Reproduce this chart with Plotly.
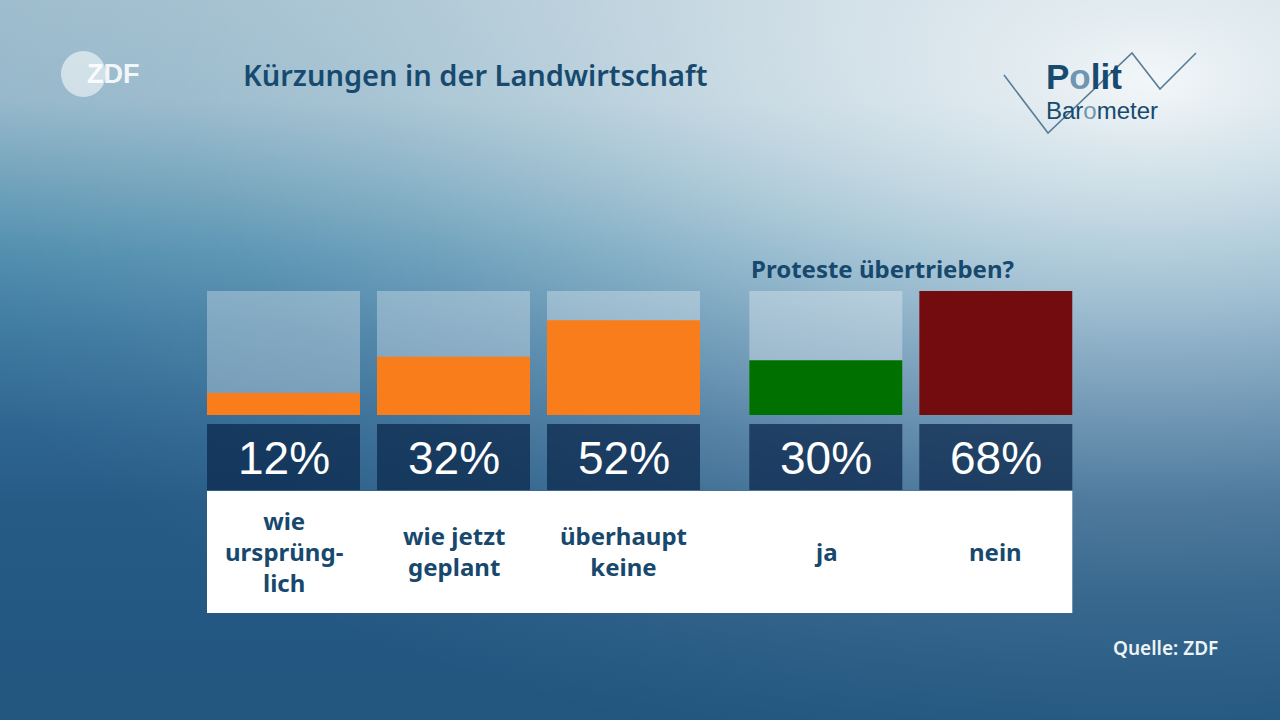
import base64
import plotly.graph_objects as go

# ---------------- data ----------------
categories = ["wie<br>ursprüng-<br>lich", "wie jetzt<br>geplant", "überhaupt<br>keine", "ja", "nein"]
values = [12, 32, 52, 30, 68]
value_labels = ["12%", "32%", "52%", "30%", "68%"]
bar_colors = ["#fa7d1b", "#fa7d1b", "#fa7d1b", "#007000", "#720c0e"]
positions = [0, 1, 2, 3.19, 4.19]
title_text = "Kürzungen in der Landwirtschaft"
subtitle_text = "Proteste übertrieben?"
source_text = "Quelle: ZDF"

W, H = 1280, 720
BAR_W = 0.9
DARK = "#17486d"


def py(y):
    return 1 - y / H


def px(x):
    return x / W


# ---------------- background (svg gradient) ----------------
svg = f"""<svg xmlns='http://www.w3.org/2000/svg' width='{W}' height='{H}'>
<defs>
<linearGradient id='v' x1='0' y1='0' x2='0' y2='1'>
<stop offset='0' stop-color='#9cbbcc'/>
<stop offset='0.14' stop-color='#93b6c9'/>
<stop offset='0.28' stop-color='#659bb6'/>
<stop offset='0.35' stop-color='#4f8dae'/>
<stop offset='0.46' stop-color='#3d79a0'/>
<stop offset='0.6' stop-color='#2e6590'/>
<stop offset='0.7' stop-color='#265b86'/>
<stop offset='1' stop-color='#22567f'/>
</linearGradient>
<radialGradient id='g' cx='1150' cy='80' r='1300' gradientUnits='userSpaceOnUse' gradientTransform='translate(1150 80) scale(1 0.54) translate(-1150 -80)'>
<stop offset='0' stop-color='#ffffff' stop-opacity='0.88'/>
<stop offset='0.1' stop-color='#ffffff' stop-opacity='0.72'/>
<stop offset='0.31' stop-color='#ffffff' stop-opacity='0.5'/>
<stop offset='0.46' stop-color='#ffffff' stop-opacity='0.33'/>
<stop offset='0.6' stop-color='#ffffff' stop-opacity='0.19'/>
<stop offset='0.74' stop-color='#ffffff' stop-opacity='0.09'/>
<stop offset='0.89' stop-color='#ffffff' stop-opacity='0.03'/>
<stop offset='1' stop-color='#ffffff' stop-opacity='0'/>
</radialGradient>
</defs>
<rect width='{W}' height='{H}' fill='url(#v)'/>
<rect width='{W}' height='{H}' fill='url(#g)'/>
</svg>"""
bg_uri = "data:image/svg+xml;base64," + base64.b64encode(svg.encode()).decode()

ymax = max(values)

fig = go.Figure()
# light background boxes (full scale)
fig.add_trace(go.Bar(
    x=positions, y=[ymax] * len(values), width=BAR_W,
    marker=dict(color="rgba(255,255,255,0.3)", line=dict(width=0)),
    hoverinfo="skip",
))
# value bars
fig.add_trace(go.Bar(
    x=positions, y=values, width=BAR_W,
    marker=dict(color=bar_colors, line=dict(width=0)),
))

shapes = []
annotations = []

# dark value boxes and labels
for p, lab in zip(positions, value_labels):
    shapes.append(dict(type="rect", xref="x", yref="paper",
                       x0=p - BAR_W / 2, x1=p + BAR_W / 2, y0=py(490), y1=py(424),
                       fillcolor="rgba(12,42,78,0.75)", line=dict(width=0), layer="above"))
    annotations.append(dict(x=p, xref="x", y=py(458), yref="paper", text=lab,
                            showarrow=False, xanchor="center", yanchor="middle",
                            font=dict(family="Liberation Sans", size=46, color="white")))

# white category area
shapes.append(dict(type="rect", xref="x", yref="paper",
                   x0=positions[0] - BAR_W / 2, x1=positions[-1] + BAR_W / 2,
                   y0=py(613), y1=py(491), fillcolor="white", line=dict(width=0), layer="above"))
for p, cat in zip(positions, categories):
    annotations.append(dict(x=p, xref="x", y=py(551), yref="paper", text=cat,
                            showarrow=False, xanchor="center", yanchor="middle",
                            font=dict(family="Noto Sans", size=24, color=DARK, weight="bold")))

# subtitle above the second group
annotations.append(dict(x=positions[3] - BAR_W / 2, xref="x", y=py(268), yref="paper",
                        text=subtitle_text, showarrow=False, xanchor="left", yanchor="middle",
                        font=dict(family="Noto Sans", size=24, color=DARK, weight="bold")))

# title
annotations.append(dict(x=px(241), xref="paper", y=py(75), yref="paper", text=title_text,
                        showarrow=False, xanchor="left", yanchor="middle",
                        font=dict(family="Noto Sans", size=29, color="#174a6e", weight=600)))

# ZDF logo
shapes.append(dict(type="circle", xref="paper", yref="paper",
                   x0=px(61), x1=px(106), y0=py(97), y1=py(51),
                   fillcolor="rgba(255,255,255,0.55)", line=dict(width=0)))
annotations.append(dict(x=px(85), xref="paper", y=py(74), yref="paper", text="ZDF",
                        showarrow=False, xanchor="left", yanchor="middle",
                        font=dict(family="Liberation Sans", size=27, color="rgba(255,255,255,0.9)",
                                  weight="bold")))

# Politbarometer logo
zig = [(1004, 75), (1048, 133), (1132, 53), (1160, 89), (1196, 53)]
path = "M " + " L ".join(f"{px(x):.5f},{py(y):.5f}" for x, y in zig)
shapes.append(dict(type="path", xref="paper", yref="paper", path=path,
                   line=dict(color="#5a7d96", width=1.6)))
annotations.append(dict(x=px(1045), xref="paper", y=py(97), yref="paper",
                        text="P<span style='color:#6f95b0'>o</span>lit",
                        showarrow=False, xanchor="left", yanchor="bottom", borderpad=0,
                        font=dict(family="Liberation Sans", size=35, color="#174a6e", weight="bold")))
annotations.append(dict(x=px(1045), xref="paper", y=py(96), yref="paper",
                        text="Bar<span style='color:#6f95b0'>o</span>meter",
                        showarrow=False, xanchor="left", yanchor="top", borderpad=0,
                        font=dict(family="Liberation Sans", size=24, color="#174a6e")))

# source
annotations.append(dict(x=px(1220), xref="paper", y=py(648), yref="paper", text=source_text,
                        showarrow=False, xanchor="right", yanchor="middle",
                        font=dict(family="Noto Sans", size=19, color="#eef3f6", weight=600)))

fig.update_layout(
    width=W, height=H,
    margin=dict(l=0, r=0, t=0, b=0),
    paper_bgcolor="#3f759b",
    plot_bgcolor="rgba(0,0,0,0)",
    barmode="overlay",
    showlegend=False,
    xaxis=dict(range=[-283.5 / 170, (W - 283.5) / 170], domain=[0, 1], visible=False, fixedrange=True),
    yaxis=dict(range=[0, ymax], domain=[py(415), py(291)], visible=False, fixedrange=True),
    shapes=shapes,
    annotations=annotations,
    images=[dict(source=bg_uri, xref="paper", yref="paper", x=0, y=1, sizex=1, sizey=1,
                 xanchor="left", yanchor="top", sizing="stretch", layer="below")],
)

fig.write_html("out.html", config={"displayModeBar": False},
               post_script="document.body.style.margin='0px';document.body.style.overflow='hidden';")
